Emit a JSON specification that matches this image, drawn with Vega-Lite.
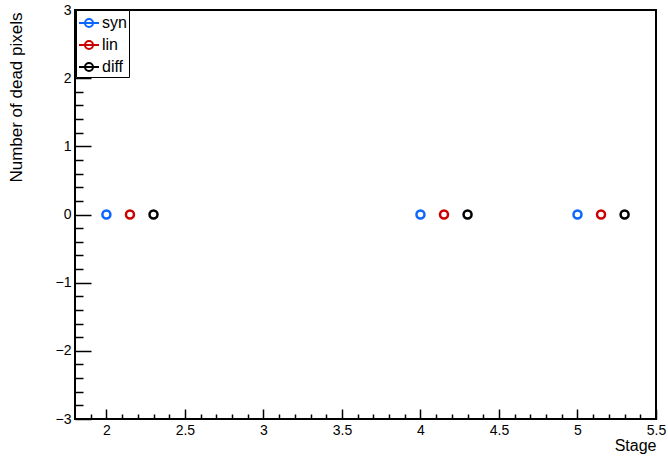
{
  "$schema": "https://vega.github.io/schema/vega-lite/v6.json",
  "width": 581,
  "height": 409,
  "autosize": {"type": "none"},
  "padding": {"left": 75, "top": 10, "right": 12, "bottom": 38},
  "background": "white",
  "config": {
    "font": "Liberation Sans",
    "view": {"stroke": "black", "strokeWidth": 2},
    "axis": {"grid": false, "domain": false, "tickColor": "black", "tickWidth": 1.5, "labelColor": "black", "labelFont": "Liberation Sans", "labelFontSize": 14, "titleFont": "Liberation Sans", "titleFontSize": 16, "titleFontWeight": "normal", "titleColor": "black", "labelFlush": false, "labelOverlap": false}
  },
  "data": {"values": [
    {"stage": 2, "value": 0, "series": "syn"},
    {"stage": 4, "value": 0, "series": "syn"},
    {"stage": 5, "value": 0, "series": "syn"},
    {"stage": 2.15, "value": 0, "series": "lin"},
    {"stage": 4.15, "value": 0, "series": "lin"},
    {"stage": 5.15, "value": 0, "series": "lin"},
    {"stage": 2.3, "value": 0, "series": "diff"},
    {"stage": 4.3, "value": 0, "series": "diff"},
    {"stage": 5.3, "value": 0, "series": "diff"}
  ]},
  "resolve": {"axis": {"x": "independent", "y": "independent"}},
  "layer": [
    {
      "mark": {"type": "point", "shape": "circle", "filled": false, "strokeWidth": 2.5, "size": 64, "opacity": 1},
      "encoding": {
        "x": {"field": "stage", "type": "quantitative", "scale": {"domain": [1.8, 5.5], "nice": false, "zero": false},
          "axis": {"orient": "bottom", "values": [2, 2.5, 3, 3.5, 4, 4.5, 5, 5.5], "tickSize": -10, "labelPadding": 14, "format": "~g", "title": "Stage", "titleX": 581, "titleY": 18, "titleAlign": "right", "titleBaseline": "top"}},
        "y": {"field": "value", "type": "quantitative", "scale": {"domain": [-3, 3], "nice": false},
          "axis": {"orient": "left", "values": [-3, -2, -1, 0, 1, 2, 3], "tickSize": -16, "labelPadding": 20, "title": "Number of dead pixels", "titleFontSize": 17, "titleAngle": -90, "titleX": -59, "titleY": 2, "titleAlign": "right", "titleBaseline": "middle"}},
        "color": {"field": "series", "type": "nominal", "scale": {"domain": ["syn", "lin", "diff"], "range": ["#0a66ff", "#cc0000", "#000000"]},
          "legend": {"title": null, "orient": "none", "legendX": 1, "legendY": 0, "strokeColor": "black", "fillColor": "white", "padding": 2, "rowPadding": 3, "labelFontSize": 16, "labelFont": "Liberation Sans", "labelColor": "black", "labelOffset": 2, "labelLimit": 200, "labelExpr": "datum.label + '\u00a0\u00a0\u00a0'",
            "symbolType": "M -1 0 L 1 0 M 0.4 0 A 0.4 0.4 0 1 1 -0.4 0 A 0.4 0.4 0 1 1 0.4 0", "symbolSize": 400, "symbolStrokeWidth": 2, "symbolFillColor": "transparent", "symbolOpacity": 1,
            "encode": {"legend": {"update": {"stroke": {"value": "black"}, "strokeWidth": {"value": 2}, "fill": {"value": "white"}}}}}}
      }
    },
    {
      "mark": {"type": "point", "opacity": 0},
      "encoding": {
        "x": {"field": "stage", "type": "quantitative", "scale": {"domain": [1.8, 5.5], "nice": false, "zero": false},
          "axis": {"orient": "bottom", "values": [1.9, 2.1, 2.2, 2.3, 2.4, 2.6, 2.7, 2.8, 2.9, 3.1, 3.2, 3.3, 3.4, 3.6, 3.7, 3.8, 3.9, 4.1, 4.2, 4.3, 4.4, 4.6, 4.7, 4.8, 4.9, 5.1, 5.2, 5.3, 5.4], "tickSize": -5, "labels": false, "title": null}},
        "y": {"field": "value", "type": "quantitative", "scale": {"domain": [-3, 3], "nice": false},
          "axis": {"orient": "left", "values": [-2.8, -2.6, -2.4, -2.2, -1.8, -1.6, -1.4, -1.2, -0.8, -0.6, -0.4, -0.2, 0.2, 0.4, 0.6, 0.8, 1.2, 1.4, 1.6, 1.8, 2.2, 2.4, 2.6, 2.8], "tickSize": -8, "labels": false, "title": null}}
      }
    }
  ]
}
